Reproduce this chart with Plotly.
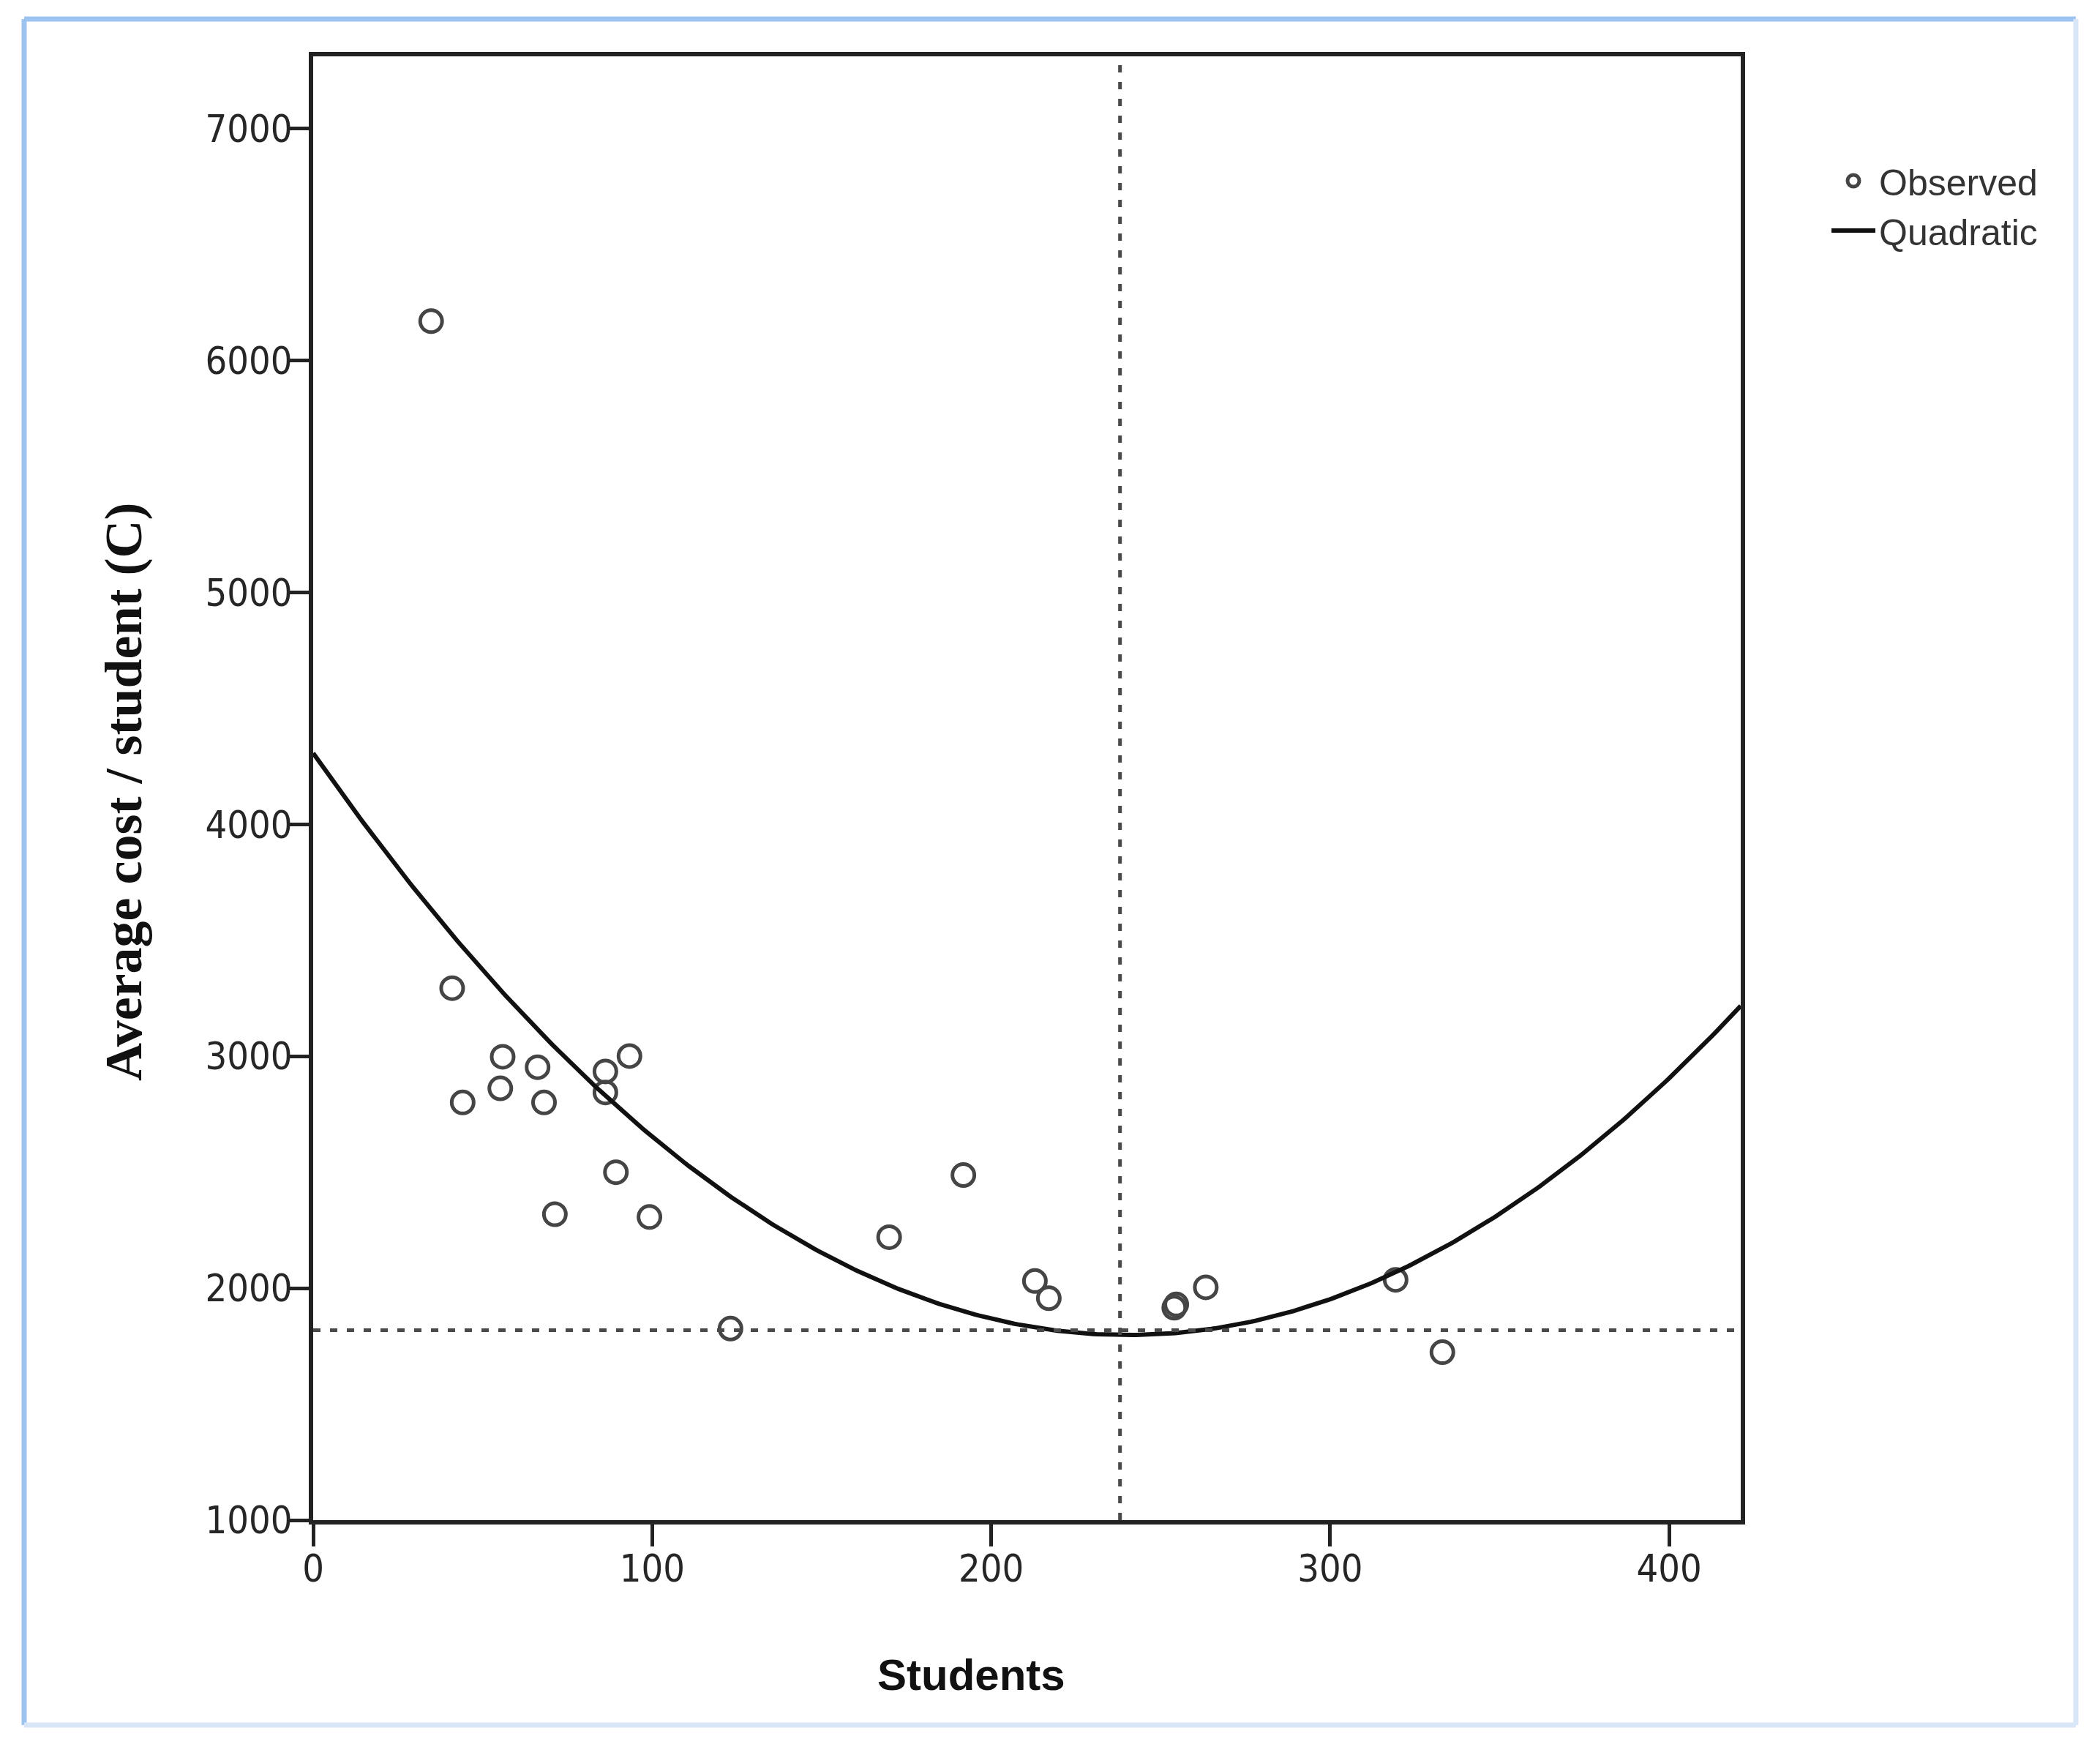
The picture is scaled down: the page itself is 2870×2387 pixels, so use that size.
import numpy as np
import plotly.graph_objects as go

# values
students = [34.8, 41.0, 44.1, 55.2, 55.9, 66.2, 68.1, 71.3, 86.2, 86.2, 89.3,
            93.3, 99.2, 123.1, 169.9, 191.8, 212.9, 217.0, 254.0, 254.6, 263.3,
            319.3, 333.1]
avg_cost = [6170, 3294, 2801, 2862, 2998, 2953, 2801, 2319, 2935, 2844, 2500,
            3001, 2307, 1826, 2220, 2488, 2031, 1957, 1916, 1930, 2004,
            2036, 1724]

# reference lines through the minimum of the fitted curve, as drawn
min_students = 238
min_cost = 1819

x_ticks = [0, 100, 200, 300, 400]
y_ticks = [1000, 2000, 3000, 4000, 5000, 6000, 7000]
x_range = [0, 421.1]
y_range = [1000, 7312]

# the page body has an 8px margin, so shift everything by it
OFF = 8
W, H = 2870 - 2 * OFF, 2387 - 2 * OFF
# plot area edges in reference pixels
L, R, T, B = 428 - OFF, 2379 - OFF, 77 - OFF, 2077 - OFF


def px(x):
    return (x - OFF - L) / (R - L)


def py(y):
    return (B - (y - OFF)) / (B - T)


# quadratic fit of the observed values, as in the curve estimation output
coef = np.polyfit(students, avg_cost, 2)
x_fit = np.linspace(x_range[0], x_range[1], 400)
y_fit = np.polyval(coef, x_fit)

tick_font = dict(family="Liberation Sans Narrow, DejaVu Sans Condensed, Arial Narrow, sans-serif",
                 size=52, color="#262626")

fig = go.Figure()

fig.add_trace(go.Scatter(
    x=students, y=avg_cost, mode="markers", name="Observed",
    marker=dict(symbol="circle-open", size=30, color="#454545", line=dict(width=5)),
))
fig.add_trace(go.Scatter(
    x=x_fit, y=y_fit, mode="lines", name="Quadratic",
    line=dict(color="#111111", width=6),
))

dotted = dict(color="#4a4a4a", width=5, dash="10px,13px")
fig.add_vline(x=min_students, line=dotted)
fig.add_hline(y=min_cost, line=dotted)

axis_common = dict(
    showline=True, linecolor="#222222", linewidth=6, mirror=True,
    ticks="outside", ticklen=30, tickwidth=5, tickcolor="#222222",
    showgrid=False, zeroline=False, tickfont=tick_font,
)
fig.update_xaxes(range=x_range, tickvals=x_ticks, ticklabelstandoff=-14, **axis_common)
fig.update_yaxes(range=y_range, tickvals=y_ticks, ticklabelstandoff=-18, **axis_common)

fig.add_annotation(
    text="<b>Average cost / student (C)</b>", textangle=-90,
    xref="paper", yref="paper", x=px(169), y=py(1082),
    xanchor="center", yanchor="middle", showarrow=False,
    font=dict(family="Liberation Serif, Times New Roman, serif", size=72, color="#111111"),
)
fig.add_annotation(
    text="<b>Students</b>",
    xref="paper", yref="paper", x=px(1327), y=py(2288),
    xanchor="center", yanchor="middle", showarrow=False,
    font=dict(family="Liberation Sans, Arial, sans-serif", size=60, color="#111111"),
)

# light blue frame round the whole picture
frame_dark, frame_light = "#9dc3f0", "#d8e6f8"
x0, x1, y0, y1 = px(33), px(2837), py(2357), py(26)
for (a, b, c, d, col) in [(x0, y1, x1, y1, frame_dark), (x0, y0, x0, y1, frame_dark),
                          (x1, y0, x1, y1, frame_light), (x0, y0, x1, y0, frame_light)]:
    fig.add_shape(type="line", xref="paper", yref="paper", x0=a, y0=b, x1=c, y1=d,
                  line=dict(color=col, width=7))

fig.update_layout(
    width=W, height=H,
    margin=dict(l=L, r=W - R, t=T, b=H - B),
    paper_bgcolor="white", plot_bgcolor="white",
    showlegend=True,
    legend=dict(
        x=px(2498), y=py(208), xanchor="left", yanchor="top",
        itemwidth=60,
        font=dict(family="Liberation Sans, Arial, sans-serif", size=50, color="#333333"),
        bgcolor="rgba(0,0,0,0)", tracegroupgap=0,
    ),
)

fig.write_html("out.html")
